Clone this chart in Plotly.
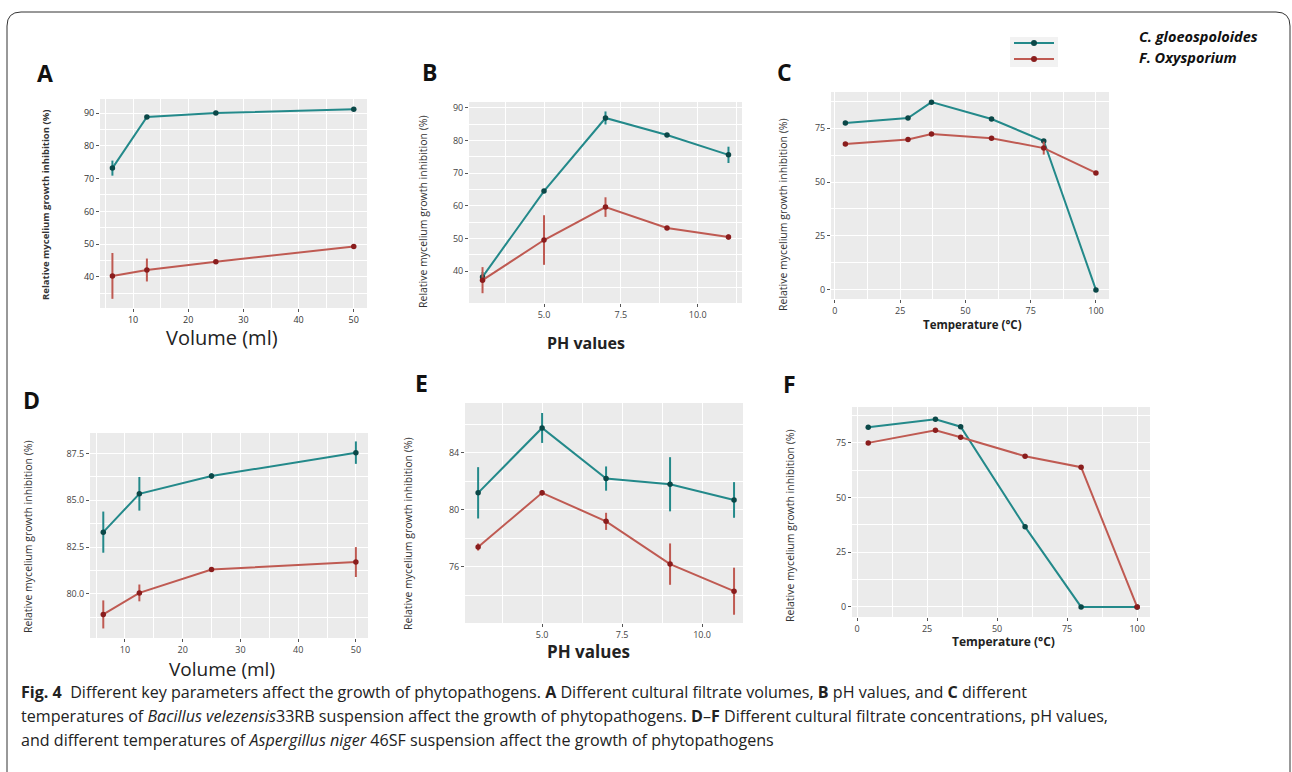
import plotly.graph_objects as go

W, H = 1292, 772

# ---------------- data ----------------
vol = [6.25, 12.5, 25, 50]
ph = [3, 5, 7, 9, 11]
temp = [4, 28, 37, 60, 80, 100]

A_cg = [73.2, 88.8, 90.0, 91.2]
A_cg_err = [2.3, 0.4, 0.3, 0.3]
A_fo = [40.3, 42.1, 44.6, 49.3]
A_fo_err = [7.0, 3.5, 0.4, 0.4]

B_cg = [38.2, 64.5, 86.9, 81.7, 75.6]
B_cg_err = [1.5, 0.4, 2.0, 0.4, 2.5]
B_fo = [37.2, 49.5, 59.6, 53.2, 50.4]
B_fo_err = [4.0, 7.6, 3.0, 0.5, 0.8]

C_cg = [77.3, 79.6, 87.0, 79.2, 69.0, 0.0]
C_cg_err = [0.5, 0.5, 0.5, 0.5, 0.8, 0.3]
C_fo = [67.6, 69.7, 72.2, 70.3, 65.7, 54.2]
C_fo_err = [0.5, 0.5, 0.5, 0.5, 3.0, 0.5]

D_cg = [83.3, 85.35, 86.3, 87.55]
D_cg_err = [1.1, 0.9, 0.15, 0.6]
D_fo = [78.9, 80.05, 81.3, 81.7]
D_fo_err = [0.75, 0.45, 0.08, 0.8]

E_cg = [81.2, 85.75, 82.2, 81.8, 80.7]
E_cg_err = [1.8, 1.05, 0.85, 1.9, 1.25]
E_fo = [77.4, 81.2, 79.2, 76.2, 74.3]
E_fo_err = [0.25, 0.2, 0.6, 1.45, 1.65]

F_cg = [82.1, 85.8, 82.4, 36.6, 0.0, 0.0]
F_cg_err = [0.5, 0.5, 0.5, 0.5, 0.3, 0.3]
F_fo = [75.0, 80.8, 77.6, 68.9, 63.9, 0.0]
F_fo_err = [0.5, 0.5, 0.5, 0.5, 0.8, 0.3]

series_names = ["C. gloeospoloides", "F. Oxysporium"]
panel_letters = ["A", "B", "C", "D", "E", "F"]
ytitle = "Relative mycelium growth inhibition (%)"

# ---------------- styling ----------------
TEAL = "#23898a"
TEAL_PT = "#0b4848"
RED = "#bf5a52"
RED_PT = "#8a1d1d"
BG = "#ebebeb"
TXT = "#222222"


def dom_x(p0, p1):
    return [p0 / W, p1 / W]


def dom_y(p0, p1):
    return [1 - p1 / H, 1 - p0 / H]


def px(x):
    return x / W


def py(y):
    return 1 - y / H


panels = [
    dict(x=vol, cg=A_cg, cge=A_cg_err, fo=A_fo, foe=A_fo_err, xd=(100, 367), yd=(99, 308),
         xr=[4.0, 52.4], yr=[30.5, 94.3], xdt=10, ydt=10, xf="d", yf="d"),
    dict(x=ph, cg=B_cg, cge=B_cg_err, fo=B_fo, foe=B_fo_err, xd=(469, 742), yd=(102, 303),
         xr=[2.56, 11.44], yr=[30.2, 91.8], xdt=2.5, ydt=10, xf=".1f", yf="d"),
    dict(x=temp, cg=C_cg, cge=C_cg_err, fo=C_fo, foe=C_fo_err, xd=(831, 1109), yd=(92, 299),
         xr=[-1.5, 105], yr=[-4.2, 91.7], xdt=25, ydt=25, xf="d", yf="d"),
    dict(x=vol, cg=D_cg, cge=D_cg_err, fo=D_fo, foe=D_fo_err, xd=(90, 368), yd=(433, 638),
         xr=[3.95, 52.1], yr=[77.64, 88.6], xdt=10, ydt=2.5, xf="d", yf=".1f"),
    dict(x=ph, cg=E_cg, cge=E_cg_err, fo=E_fo, foe=E_fo_err, xd=(465, 743), yd=(403, 623),
         xr=[2.59, 11.28], yr=[72.07, 87.5], xdt=2.5, ydt=4, xf=".1f", yf="d"),
    dict(x=temp, cg=F_cg, cge=F_cg_err, fo=F_fo, foe=F_fo_err, xd=(852, 1150), yd=(407, 617),
         xr=[-1.8, 104.6], yr=[-4.6, 91.4], xdt=25, ydt=25, xf="d", yf="d"),
]

fig = go.Figure()
layout = dict(
    width=W, height=H,
    margin=dict(l=0, r=0, t=0, b=0),
    paper_bgcolor="white",
    plot_bgcolor=BG,
    showlegend=False,
    font=dict(family="Open Sans", color=TXT),
)

for i, p in enumerate(panels):
    n = i + 1
    xa = "xaxis" if n == 1 else f"xaxis{n}"
    ya = "yaxis" if n == 1 else f"yaxis{n}"
    xref = "x" if n == 1 else f"x{n}"
    yref = "y" if n == 1 else f"y{n}"
    tickfont = dict(size=9, color="#444444", family="Open Sans")
    if n == 1:
        tickfont = dict(size=9, color="#333333", family="Open Sans")
    layout[xa] = dict(domain=dom_x(*p["xd"]), range=p["xr"], anchor=yref,
                      tick0=0, dtick=p["xdt"], tickformat=p["xf"],
                      showgrid=True, gridcolor="white", gridwidth=1.4,
                      minor=dict(showgrid=True, gridcolor="white", gridwidth=0.6,
                                 tick0=0, dtick=p["xdt"] / 2),
                      zeroline=False, showline=False,
                      ticks="outside", ticklen=3, tickcolor="#555555", tickwidth=1,
                      tickfont=tickfont, fixedrange=True)
    layout[ya] = dict(domain=dom_y(*p["yd"]), range=p["yr"], anchor=xref,
                      tick0=0, dtick=p["ydt"], tickformat=p["yf"],
                      showgrid=True, gridcolor="white", gridwidth=1.4,
                      minor=dict(showgrid=True, gridcolor="white", gridwidth=0.6,
                                 tick0=0, dtick=p["ydt"] / 2),
                      zeroline=False, showline=False,
                      ticks="outside", ticklen=3, tickcolor="#555555", tickwidth=1,
                      tickfont=tickfont, fixedrange=True)
    for vals, errs, lc, mc, name in [(p["cg"], p["cge"], TEAL, TEAL_PT, series_names[0]),
                                     (p["fo"], p["foe"], RED, RED_PT, series_names[1])]:
        fig.add_trace(go.Scatter(
            x=p["x"], y=vals, mode="lines+markers", name=name,
            xaxis=xref, yaxis=yref,
            line=dict(color=lc, width=2),
            marker=dict(color=mc, size=5.5),
            error_y=dict(type="data", array=errs, visible=True, color=lc,
                         thickness=2, width=0),
            showlegend=False,
        ))

ann = []

# panel letters
letter_pos = [(45, 73), (429, 72), (784, 72), (31, 400), (421, 383), (790, 384)]
for L, (lx, ly) in zip(panel_letters, letter_pos):
    ann.append(dict(text=f"<b>{L}</b>", x=px(lx), y=py(ly), xref="paper", yref="paper",
                    showarrow=False, xanchor="center", yanchor="middle",
                    font=dict(size=23, family="Open Sans", color="#111111")))

# y titles
ytitle_pos = [(45, 205, True, 9.5), (423, 212, False, 10.5), (783, 215, False, 10.5),
              (28, 537, False, 10.5), (408, 534, False, 10.5), (790, 525, False, 10.5)]
for (tx, ty, bold, fs) in ytitle_pos:
    t = f"<b>{ytitle}</b>" if bold else ytitle
    ann.append(dict(text=t, x=px(tx), y=py(ty), xref="paper", yref="paper",
                    showarrow=False, xanchor="center", yanchor="middle", textangle=-90,
                    font=dict(size=fs, family="Open Sans", color="#333333")))

# x titles
xtitles = [("Volume (ml)", 222, 337, 20),
           ("<b>PH values</b>", 586, 343, 16),
           ("<b>Temperature (°C)</b>", 972, 325, 11.5),
           ("Volume (ml)", 222, 669, 19),
           ("<b>PH values</b>", 588, 651, 17),
           ("<b>Temperature (°C)</b>", 1003, 641, 12)]
for (t, tx, ty, fs) in xtitles:
    ann.append(dict(text=t, x=px(tx), y=py(ty), xref="paper", yref="paper",
                    showarrow=False, xanchor="center", yanchor="middle",
                    font=dict(size=fs, family="Open Sans", color="#222222")))

# legend text
for name, ly in zip(series_names, [37, 57]):
    ann.append(dict(text=f"<b><i>{name}</i></b>", x=px(1137), y=py(ly), xref="paper", yref="paper",
                    showarrow=False, xanchor="left", yanchor="middle",
                    font=dict(size=14.5, family="Open Sans", color="#111111")))

# caption
cap_lines = [
    "<b>Fig. 4</b>  Different key parameters affect the growth of phytopathogens. <b>A</b> Different cultural filtrate volumes, <b>B</b> pH values, and <b>C</b> different",
    "temperatures of <i>Bacillus velezensis</i>33RB suspension affect the growth of phytopathogens. <b>D</b>–<b>F</b> Different cultural filtrate concentrations, pH values,",
    "and different temperatures of <i>Aspergillus niger</i> 46SF suspension affect the growth of phytopathogens",
]
for line, ly in zip(cap_lines, [692, 716, 740]):
    ann.append(dict(text=line, x=px(19), y=py(ly), xref="paper", yref="paper",
                    showarrow=False, xanchor="left", yanchor="middle",
                    font=dict(size=16.1, family="Open Sans", color="#222222")))

layout["annotations"] = ann

# frame and legend keys
x0, x1, y0 = 7 / W, 1290 / W, 1 - 12 / H
rx, ry = 14 / W, 14 / H
frame_path = (f"M {x0},-0.05 L {x0},{y0 - ry} Q {x0},{y0} {x0 + rx},{y0} "
              f"L {x1 - rx},{y0} Q {x1},{y0} {x1},{y0 - ry} L {x1},-0.05")
shapes = [dict(type="path", path=frame_path, xref="paper", yref="paper",
               line=dict(color="#333333", width=1))]
shapes.append(dict(type="rect", xref="paper", yref="paper",
                   x0=px(1010), x1=px(1058), y0=py(67), y1=py(37),
                   fillcolor="#f2f2f2", line=dict(width=0), layer="below"))
for ly, lc, mc in [(43, TEAL, TEAL_PT), (59, RED, RED_PT)]:
    shapes.append(dict(type="line", xref="paper", yref="paper",
                       x0=px(1014), x1=px(1054), y0=py(ly), y1=py(ly),
                       line=dict(color=lc, width=2)))
    shapes.append(dict(type="circle", xref="paper", yref="paper",
                       x0=px(1031), x1=px(1037), y0=py(ly + 3), y1=py(ly - 3),
                       fillcolor=mc, line=dict(width=0)))
layout["shapes"] = shapes

fig.update_layout(**layout)
fig.write_html("out.html", config={"displayModeBar": False},
               post_script="document.body.style.margin='0';document.body.style.overflow='hidden';")
